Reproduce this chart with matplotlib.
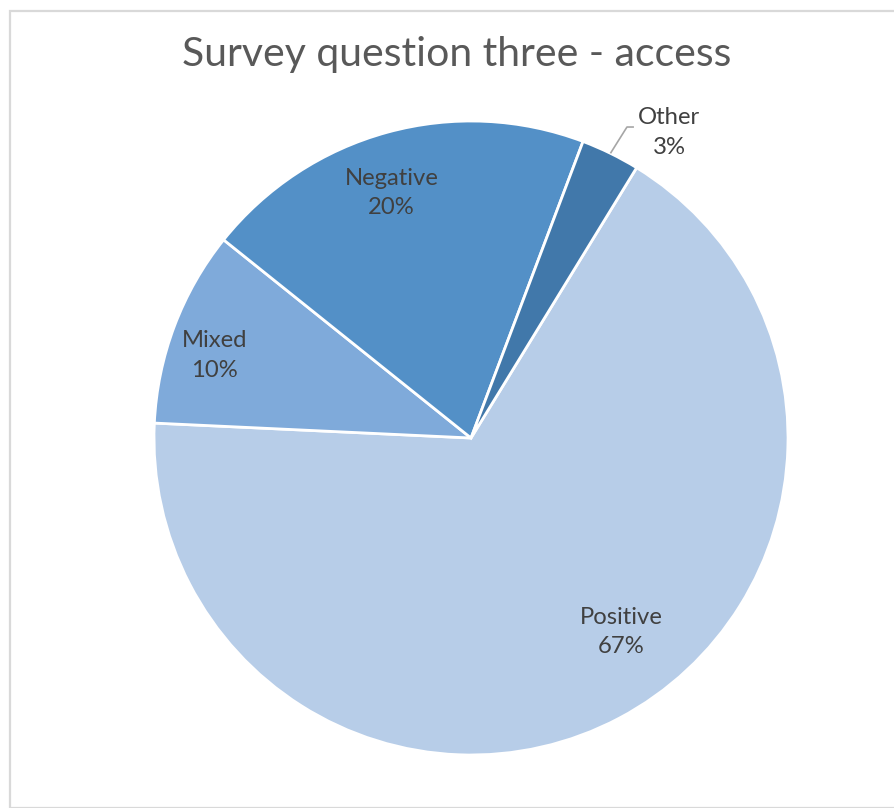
import numpy as np
import matplotlib
matplotlib.use("Agg")
import matplotlib.pyplot as plt
from matplotlib.patches import Rectangle

# Survey responses (percent of respondents), in clockwise drawing order
categories = ["Positive", "Mixed", "Negative", "Other"]
shares = [67, 10, 20, 3]
colors = ["#B7CDE8", "#7FAADA", "#5390C7", "#4178AA"]

title = "Survey question three - access"

W, H = 894, 808
fig = plt.figure(figsize=(W / 100, H / 100), dpi=100)
fig.patch.set_facecolor("white")

# light chart-area border
fig.add_artist(Rectangle((9.5 / W, 0), 1, 1 - 10.5 / H, transform=fig.transFigure,
                         fill=False, edgecolor="#D9D9D9", linewidth=1.6))

cx, cy, r = 471, 438, 317
ax = fig.add_axes([(cx - r) / W, (H - cy - r) / H, 2 * r / W, 2 * r / H])

wedges, _ = ax.pie(shares, colors=colors, startangle=58.5, counterclock=False,
                   radius=1, wedgeprops=dict(edgecolor="white", linewidth=2))
ax.set_xlim(-1, 1)
ax.set_ylim(-1, 1)
ax.set_aspect("equal")
ax.axis("off")

fontfam = ["Lato", "DejaVu Sans"]
label_color = "#404040"
fs = 17.2

# inside label placement (radius fraction, polar angle in degrees)
inside = {
    "Positive": (0.775, -52.2),
    "Mixed": (0.849, 162.2),
    "Negative": (0.813, 108.0),
}
for w, cat, val in zip(wedges, categories, shares):
    txt = f"{cat}\n{val}%"
    if cat in inside:
        rr, ang = inside[cat]
        ax.text(rr * np.cos(np.radians(ang)), rr * np.sin(np.radians(ang)), txt,
                ha="center", va="center", fontsize=fs, color=label_color,
                family=fontfam, linespacing=1.5)
    else:
        mid = np.radians((w.theta1 + w.theta2) / 2)
        x0, y0 = np.cos(mid), np.sin(mid)
        ax.plot([x0, 0.492, 0.514], [y0, 0.981, 0.981], color="#A6A6A6",
                lw=1.2, clip_on=False, solid_capstyle="butt")
        ax.text(0.625, 0.964, txt, ha="center", va="center", fontsize=fs,
                color=label_color, family=fontfam, linespacing=1.5, clip_on=False)

fig.text(457 / W, 1 - 66 / H, title, ha="center", va="baseline",
         fontsize=29.5, color="#595959", family=fontfam)

fig.savefig("out.png", dpi=100, facecolor="white")
